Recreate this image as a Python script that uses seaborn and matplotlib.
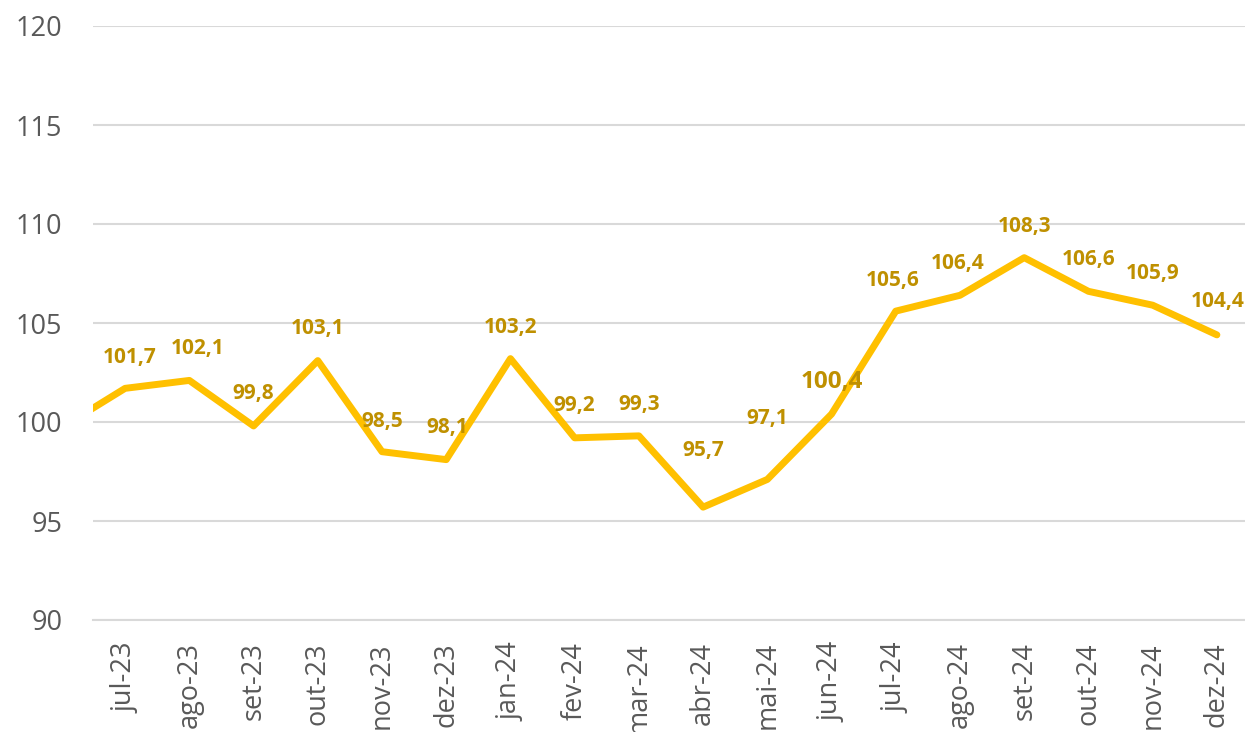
import matplotlib
matplotlib.use("Agg")
import matplotlib.pyplot as plt
import seaborn as sns
import numpy as np
import pandas as pd

months = ["jun-23", "jul-23", "ago-23", "set-23", "out-23", "nov-23", "dez-23",
          "jan-24", "fev-24", "mar-24", "abr-24", "mai-24", "jun-24",
          "jul-24", "ago-24", "set-24", "out-24", "nov-24", "dez-24"]
values = [99.7, 101.7, 102.1, 99.8, 103.1, 98.5, 98.1, 103.2, 99.2, 99.3,
          95.7, 97.1, 100.4, 105.6, 106.4, 108.3, 106.6, 105.9, 104.4]
labels = ["", "101,7", "102,1", "99,8", "103,1", "98,5", "98,1", "103,2", "99,2",
          "99,3", "95,7", "97,1", "100,4", "105,6", "106,4", "108,3", "106,6",
          "105,9", "104,4"]
y_ticks = [90, 95, 100, 105, 110, 115, 120]

# label placement (pixel offsets) - styling only
label_dx = [0, 5, 8, 0, 0, 0, 1, 0, 0, 0, 0, 0, 0, -3, -2, 0, 0, 0, 1]
label_dy = [0, 31, 32, 32, 32, 30, 32, 31, 32, 31, 57, 61, 32, 31, 32, 31, 32, 32, 33]
label_size = [15] * len(values)
label_size[12] = 17.5

sns.set_theme(style="white")
plt.rcParams['font.family'] = ['Open Sans', 'DejaVu Sans']

W, H = 1245, 732
fig = plt.figure(figsize=(W / 100, H / 100), dpi=100)
ax = fig.add_axes([93 / W, 1 - 620 / H, (1249 - 93) / W, (620 - 26) / H])

x = np.arange(len(months)) - 1
df = pd.DataFrame({"x": x, "value": values})
sns.lineplot(data=df, x="x", y="value", ax=ax, color="#FFC000", linewidth=5,
             solid_joinstyle="round", solid_capstyle="round")

ax.set_xlim(-0.5, len(months) - 1.5)
ax.set_ylim(90, 120)
ax.set_yticks(y_ticks)
ax.set_yticklabels([str(v) for v in y_ticks])
ax.yaxis.grid(True, color="#D9D9D9", linewidth=1.5)
ax.set_axisbelow(True)

ax.set_xticks(x[1:])
ax.set_xticklabels(months[1:], rotation=90, va="top", ha="center")
ax.set_xticks(np.arange(-0.5, len(months) - 1.5, 1.0), minor=True)
ax.tick_params(axis="x", which="major", length=0, pad=16, labelsize=19.5, labelcolor="#595959")
ax.tick_params(axis="x", which="minor", length=7, width=1.5, color="#D9D9D9", direction="out")
ax.tick_params(axis="y", length=0, pad=22, labelsize=19.5, labelcolor="#595959")

for s in ["top", "right", "left"]:
    ax.spines[s].set_visible(False)
ax.spines["bottom"].set_color("#D9D9D9")
ax.spines["bottom"].set_linewidth(1.5)
ax.set_xlabel("")
ax.set_ylabel("")

for i in range(1, len(months)):
    ax.annotate(labels[i], (x[i], values[i]), xytext=(label_dx[i], label_dy[i]),
                textcoords="offset pixels", ha="center", va="center",
                fontsize=label_size[i], fontweight="bold", color="#BF9000")

fig.savefig("out.png", dpi=100)
